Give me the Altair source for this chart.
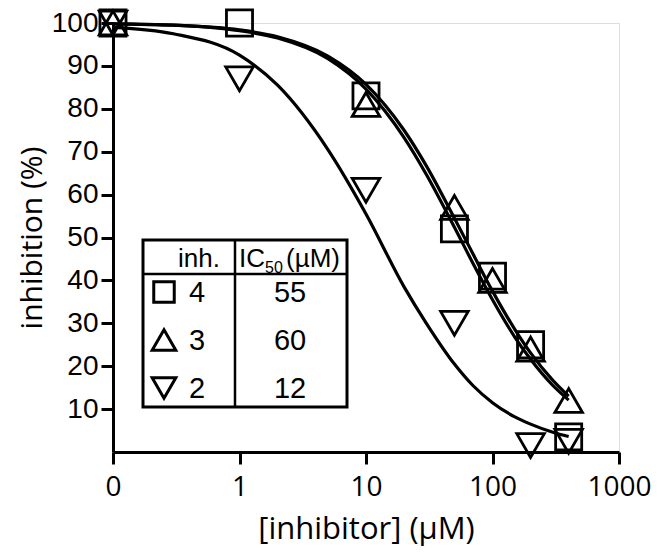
import altair as alt
import pandas as pd

# ---- data ----
conc = [0.1, 1, 10, 50, 100, 200, 400]
inh4 = [100, 100, 83, 52, 41, 25, 3.5]
inh3 = [100, None, 81, 57, 40, 24, 12]
inh2 = [100, 87, 61, 30, None, 1.5, 2.5]

curve_x = [0.1, 0.3, 1, 2, 5, 10, 20, 30, 50, 70, 100, 150, 200, 300, 400]
curve4 = [99.8, 99.5, 98.2, 96.5, 91.7, 84.6, 73.3, 64.7, 52.4, 44.0, 35.5, 26.8, 21.6, 15.5, 12.1]
curve3 = [99.8, 99.5, 98.4, 96.8, 92.3, 85.7, 75.0, 66.7, 54.5, 46.2, 37.5, 28.6, 23.1, 16.7, 13.0]
curve2 = [99.0, 97.5, 92.5, 85.5, 70.5, 55.5, 38.5, 30.0, 20.5, 15.5, 11.5, 8.2, 6.5, 4.6, 3.6]

inh_names = ["4", "3", "2"]
ic50_values = ["55", "60", "12"]
shapes = ["square", "triangle-up", "triangle-down"]

x_ticks = [0.1, 1, 10, 100, 1000]
y_ticks = [10, 20, 30, 40, 50, 60, 70, 80, 90, 100]

# ---- tables ----
pts = []
for name, vals in zip(inh_names, [inh4, inh3, inh2]):
    for c, v in zip(conc, vals):
        if v is not None:
            pts.append({"inh": name, "conc": c, "pct": v})
pts = pd.DataFrame(pts)

crv = []
for name, vals in zip(inh_names, [curve4, curve3, curve2]):
    for c, v in zip(curve_x, vals):
        crv.append({"inh": name, "conc": c, "pct": v})
crv = pd.DataFrame(crv)

xscale = alt.Scale(type="log", domain=[0.1, 1000], nice=False)
yscale = alt.Scale(domain=[0, 100], nice=False, zero=False)

xaxis = alt.Axis(values=x_ticks, title="[inhibitor] (µM)",
                 labelExpr="datum.value < 0.5 ? '0' : format(datum.value, 'd')",
                 grid=False, tickSize=12, tickWidth=3, domainWidth=3,
                 domainColor="black", tickColor="black", labelColor="black",
                 labelFont="Open Sans", labelFontSize=28, labelPadding=9,
                 titleFont="Open Sans", titleFontSize=31, titleFontWeight="normal",
                 titleColor="black", titlePadding=13, labelFlush=False)
yaxis = alt.Axis(values=y_ticks, title="inhibition (%)", grid=False,
                 tickSize=12, tickWidth=3, domainWidth=3,
                 domainColor="black", tickColor="black", labelColor="black",
                 labelFont="Liberation Sans", labelFontSize=28, labelPadding=3,
                 titleFont="Open Sans", titleFontSize=30, titleFontWeight="normal",
                 titleColor="black", titlePadding=4, labelFlush=False)

lines = alt.Chart(crv).mark_line(color="black", strokeWidth=3.2, interpolate="monotone").encode(
    x=alt.X("conc:Q", scale=xscale, axis=xaxis),
    y=alt.Y("pct:Q", scale=yscale, axis=yaxis),
    detail="inh:N",
)

point_layers = []
sizes = [680, 760, 760]
for name, shp, sz in zip(inh_names, shapes, sizes):
    point_layers.append(
        alt.Chart(pts).transform_filter(alt.datum.inh == name)
        .mark_point(shape=shp, size=sz, filled=False, color="black", strokeWidth=2.8, opacity=1)
        .encode(x=alt.X("conc:Q", scale=xscale), y=alt.Y("pct:Q", scale=yscale))
    )

# ---- inset table (pixel positions relative to plot area) ----
one = pd.DataFrame({"a": [0]})
box = alt.Chart(one).mark_rect(fill="white", stroke="black", strokeWidth=3).encode(
    x=alt.value(30), x2=alt.value(234), y=alt.value(217), y2=alt.value(384))
hline = alt.Chart(one).mark_rule(color="black", strokeWidth=2.5).encode(
    x=alt.value(30), x2=alt.value(234), y=alt.value(251))
vline = alt.Chart(one).mark_rule(color="black", strokeWidth=2.5).encode(
    x=alt.value(122), y=alt.value(217), y2=alt.value(384))

hdr_font = dict(font="Liberation Sans", color="black")
h1 = alt.Chart(one).mark_text(text="inh.", fontSize=26, align="center", baseline="alphabetic", **hdr_font).encode(
    x=alt.value(86), y=alt.value(244))
h2 = alt.Chart(one).mark_text(text="IC", fontSize=26, align="left", baseline="alphabetic", **hdr_font).encode(
    x=alt.value(126), y=alt.value(244))
h3 = alt.Chart(one).mark_text(text="50", fontSize=16, align="left", baseline="alphabetic", **hdr_font).encode(
    x=alt.value(152), y=alt.value(250))
h4 = alt.Chart(one).mark_text(text="(µM)", fontSize=26, align="left", baseline="alphabetic", **hdr_font).encode(
    x=alt.value(173), y=alt.value(244))

row_layers = []
row_y = [269, 317, 365]
leg_sizes = [420, 560, 560]
for i, (name, ic, shp) in enumerate(zip(inh_names, ic50_values, shapes)):
    d = pd.DataFrame({"name": [name], "ic": [ic]})
    row_layers.append(alt.Chart(d).mark_point(shape=shp, size=leg_sizes[i], filled=False,
                                              color="black", strokeWidth=3, opacity=1)
                      .encode(x=alt.value(51), y=alt.value(row_y[i])))
    row_layers.append(alt.Chart(d).mark_text(fontSize=29, align="center", baseline="middle", **hdr_font)
                      .encode(x=alt.value(84), y=alt.value(row_y[i] + 1), text="name:N"))
    row_layers.append(alt.Chart(d).mark_text(fontSize=29, align="center", baseline="middle", **hdr_font)
                      .encode(x=alt.value(177), y=alt.value(row_y[i] + 1), text="ic:N"))

chart = alt.layer(lines, *point_layers, box, hline, vline, h1, h2, h3, h4, *row_layers).properties(
    width=506, height=429,
    autosize=alt.AutoSizeParams(type="none"),
    padding={"left": 105, "top": 15, "right": 35, "bottom": 100},
).configure_view(stroke=None).configure(background="white")

chart.save("out.html", embed_options={"renderer": "svg", "actions": False})
